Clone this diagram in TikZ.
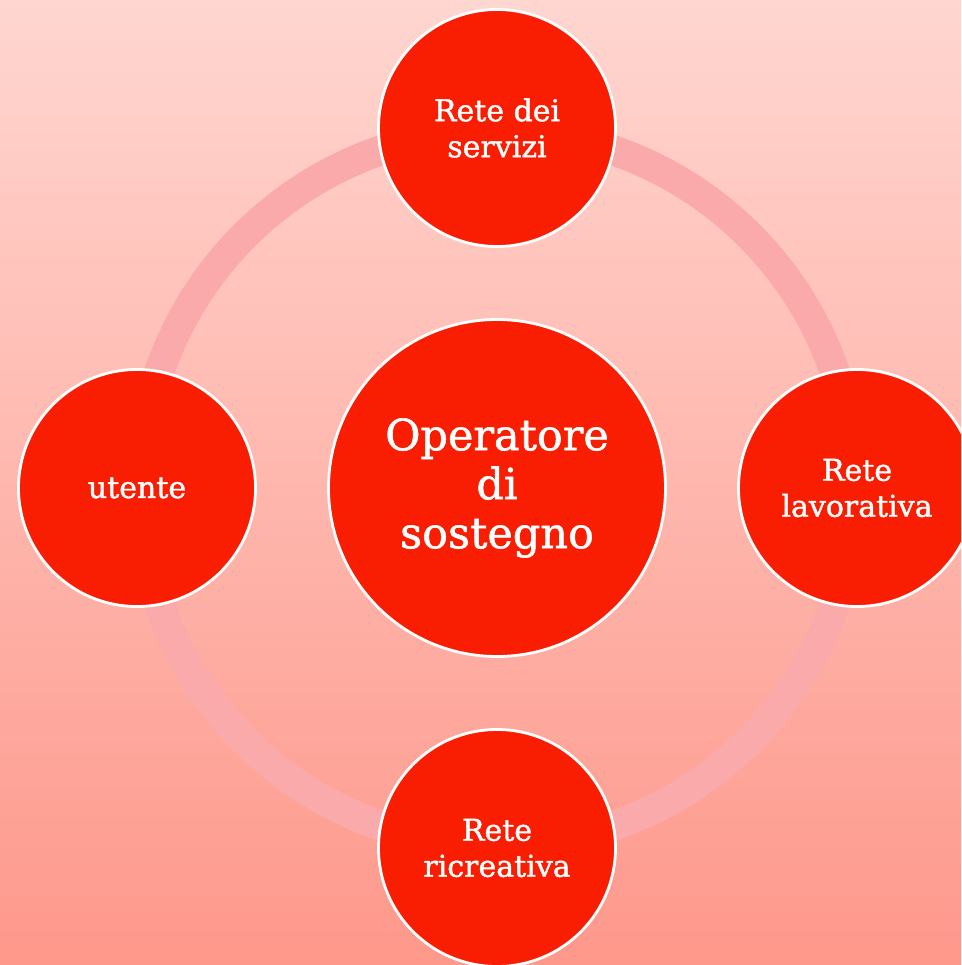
\documentclass[tikz,border=0pt]{standalone}
\usepackage{fontspec}
\setmainfont{DejaVu Serif}[FakeBold=1.3]
\usepackage{tikz}
\usetikzlibrary{shapes,backgrounds,positioning}

\definecolor{BgTop}{RGB}{255,214,208}
\definecolor{BgBottom}{RGB}{254,152,139}
\definecolor{RingPink}{RGB}{250,170,170}
\definecolor{DiskRed}{RGB}{249,29,2}

\begin{document}
\begin{tikzpicture}[x=1pt, y=-1pt]
			\tikzstyle{Disk}	= [circle, draw=white, line width=2.8pt, fill=DiskRed, text=white, inner sep=0pt, align=center]
			\tikzstyle{Rete}	= [minimum size=237pt, font=\fontsize{30}{36}\selectfont]
			\tikzstyle{Hub}		= [minimum size=337pt, font=\fontsize{43}{49}\selectfont]
			\tikzstyle{Ring}	= [line width=30pt, RingPink]

			\useasboundingbox (0,0) rectangle (961,965);
			\clip (0,0) rectangle (961,965);
			\shade [top color=BgTop, bottom color=BgBottom] (0,0) rectangle (961,965);

			\coordinate (o) at (497,488);
			\draw (o) circle (357pt) [Ring];

			\node (hub) at (o) [Disk][Hub] {Operatore\\di\\sostegno};

			\node (servizi) at (497,128) [Disk][Rete] {Rete dei\\servizi};
			\node (utente) at (137,488) [Disk][Rete] {utente};
			\node (lavoro) at (857,488) [Disk][Rete] {Rete\\lavorativa};
			\node (svago) at (497,848) [Disk][Rete] {Rete\\ricreativa};
\end{tikzpicture}
\end{document}
